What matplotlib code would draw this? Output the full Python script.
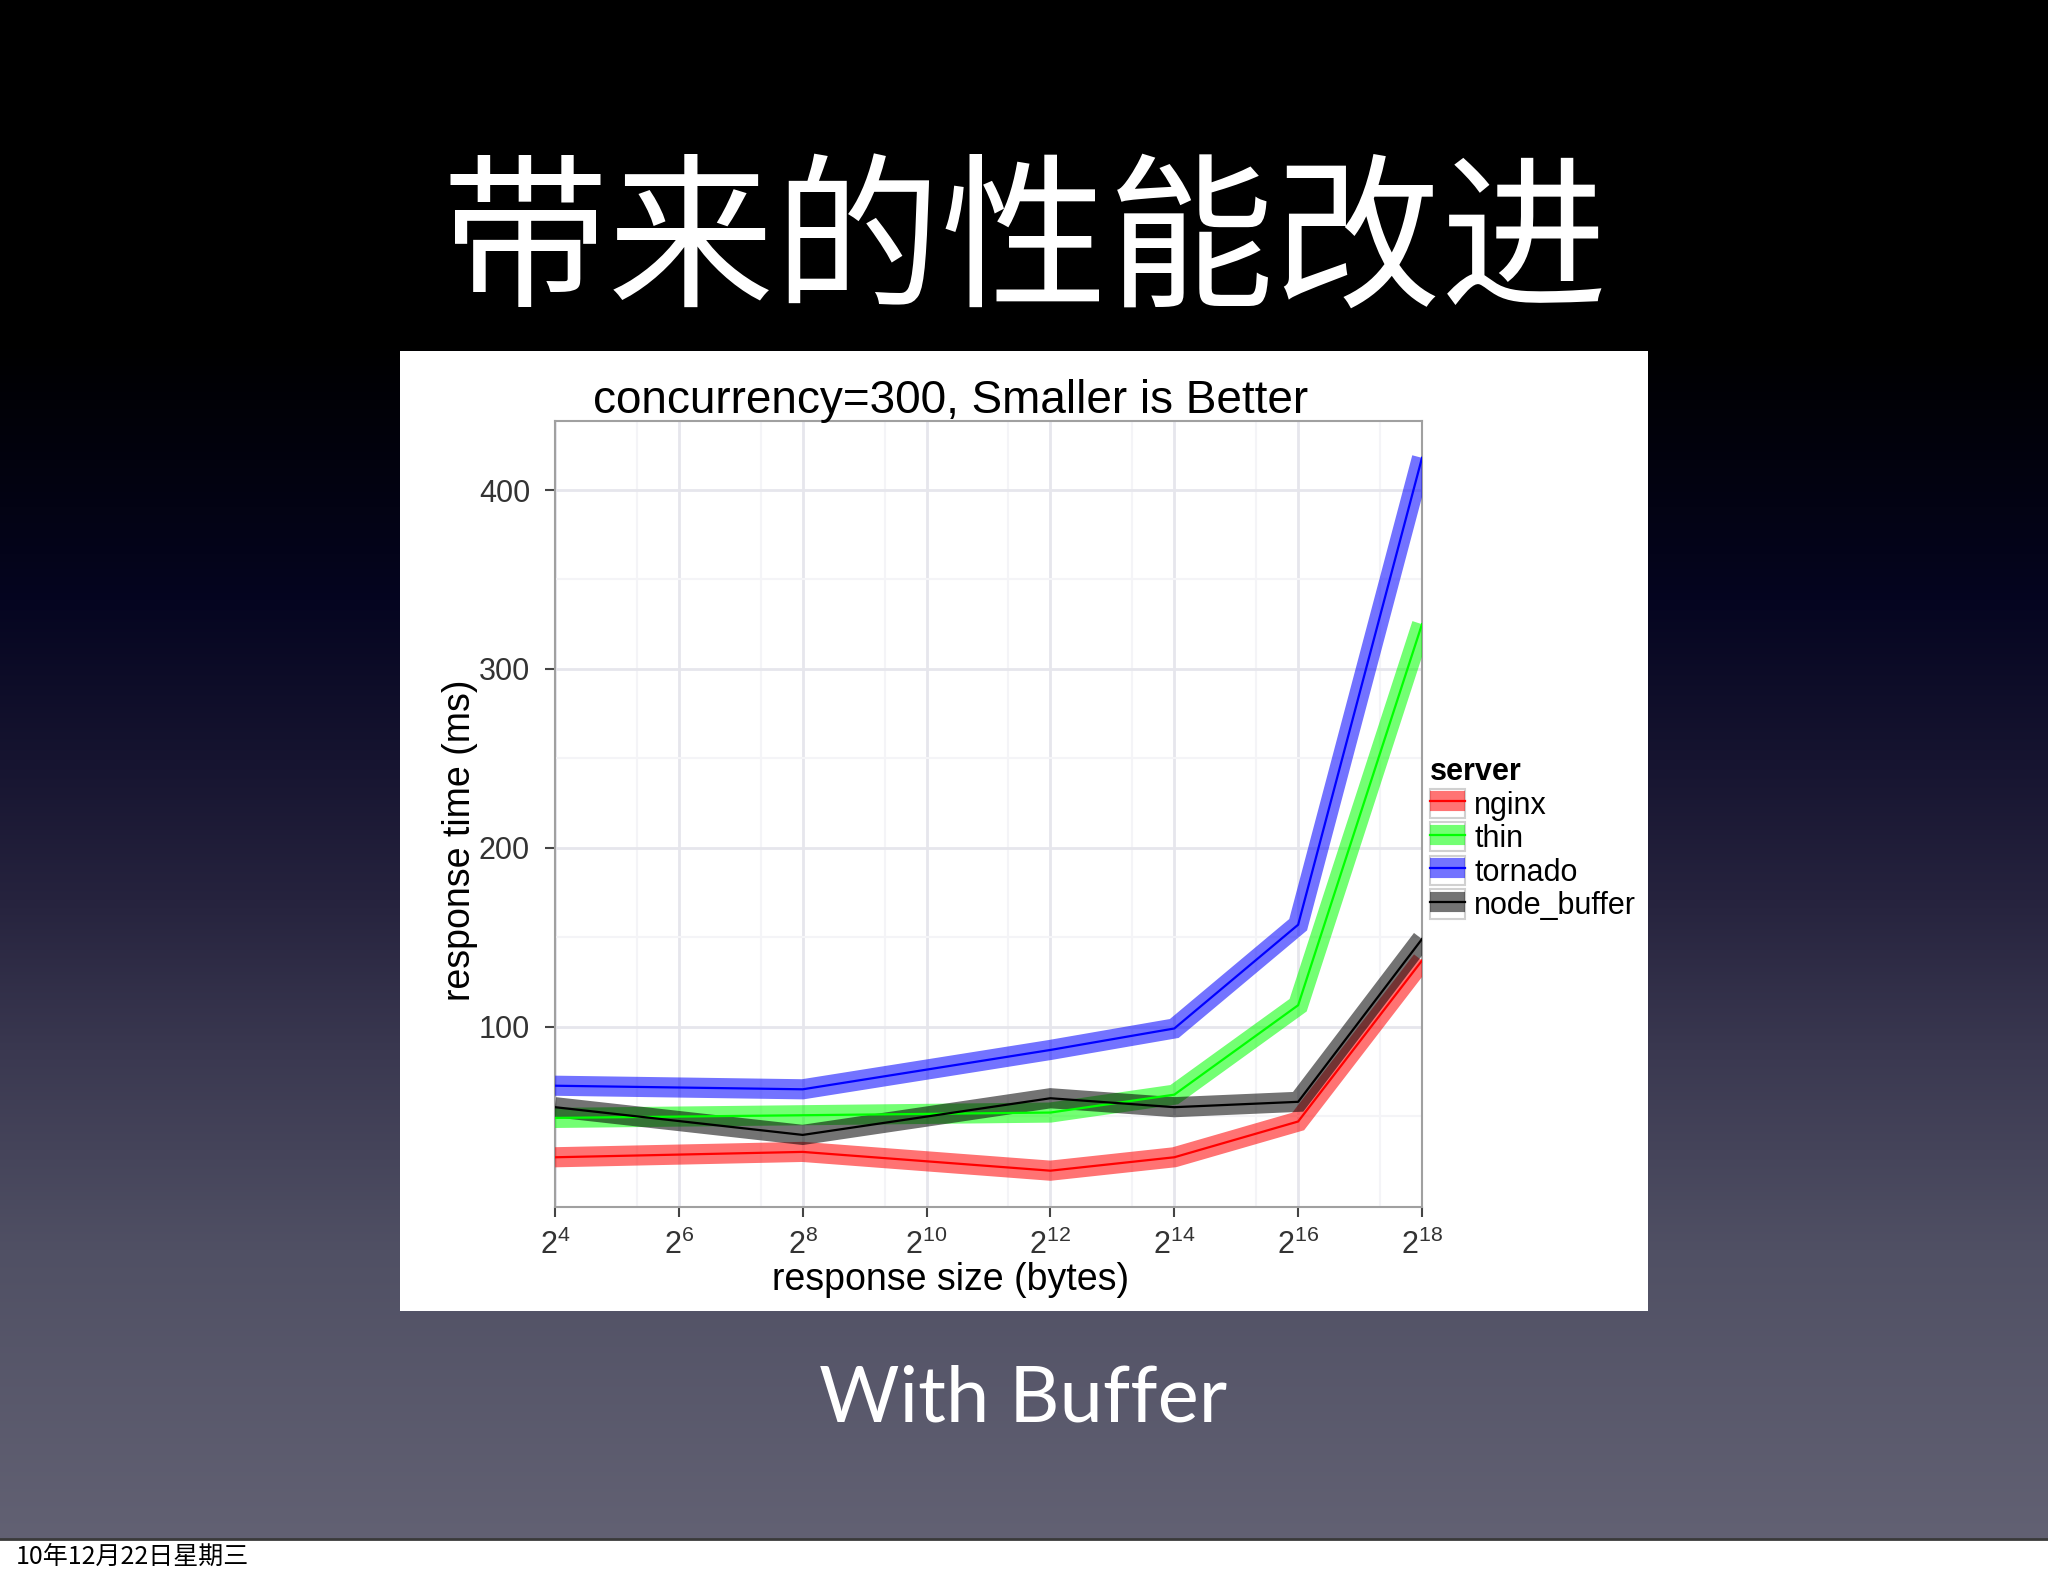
import numpy as np
import matplotlib
matplotlib.use('Agg')
import matplotlib.pyplot as plt
from matplotlib.patches import Rectangle
from matplotlib.lines import Line2D
from matplotlib.ticker import NullFormatter

# data
size_exp = [4, 8, 12, 14, 16, 18]
servers = ['nginx', 'thin', 'tornado', 'node_buffer']
nginx = [27, 30, 19.5, 27, 47, 137]
thin = [49, 50.5, 52, 62, 112, 325]
tornado = [67, 65, 87, 99, 157, 418]
node_buffer = [55, 39.5, 60, 55, 58, 149]
tick_exp = [4, 6, 8, 10, 12, 14, 16, 18]
y_ticks = [100, 200, 300, 400]

colors = ['#ff0000', '#00ff00', '#0000ff', '#000000']

plt.rcParams['font.family'] = ['Liberation Sans', 'Noto Sans CJK SC', 'DejaVu Sans']
plt.rcParams['mathtext.fontset'] = 'custom'
plt.rcParams['mathtext.rm'] = 'Liberation Sans'
plt.rcParams['mathtext.it'] = 'Liberation Sans:italic'
plt.rcParams['mathtext.bf'] = 'Liberation Sans:bold'

W, H = 2048, 1576
fig = plt.figure(figsize=(W / 100, H / 100), dpi=100)


def fx(px):
    return px / W


def fy(py):
    return 1 - py / H


# slide background gradient
bg = fig.add_axes([0, 0, 1, 1], zorder=-10)
stops_y = [0, 340, 460, 600, 760, 900, 1050, 1250, 1540]
stops_c = np.array([(0, 0, 0), (0, 0, 0), (2, 2, 14), (5, 5, 32), (22, 20, 48),
                    (38, 35, 62), (58, 56, 80), (80, 80, 100), (98, 97, 115)]) / 255
rows = np.arange(H)
grad = np.stack([np.interp(rows, stops_y, stops_c[:, i]) for i in range(3)], axis=1)
bg.imshow(grad[:, None, :], aspect='auto', extent=(0, 1, 0, 1))
bg.set_axis_off()

# white chart panel and footer strip
fig.patches.append(Rectangle((fx(400), fy(1311)), fx(1248), 960 / H,
                             transform=fig.transFigure, facecolor='white',
                             edgecolor='none', zorder=-5))
fig.patches.append(Rectangle((0, 0), 1, 36 / H, transform=fig.transFigure,
                             facecolor='white', edgecolor='none', zorder=-5))
fig.lines.append(Line2D([0, 1], [fy(1539), fy(1539)], transform=fig.transFigure,
                        color='#3a3a3a', lw=2, zorder=-4))

cjk = ['Noto Sans CJK SC', 'DejaVu Sans']
fig.text(fx(1025), fy(247), '带来的性能改进', family=cjk, fontsize=120,
         weight='light', color='white', ha='center', va='center')
fig.text(fx(1023), fy(1400), 'With Buffer', family=['Lato', 'DejaVu Sans'],
         fontsize=56, color='white', ha='center', va='center')
fig.text(fx(16), fy(1557), '10年12月22日星期三', family=cjk, fontsize=18,
         color='black', ha='left', va='center')

# chart
ax = fig.add_axes([fx(555), fy(1207), 867 / W, 786 / H])
ax.set_xscale('log', base=2)
x = [2 ** e for e in size_exp]
series = [nginx, thin, tornado, node_buffer]
for vals, c in zip(series, colors):
    ax.plot(x, vals, color=c, lw=14.5, alpha=0.55, solid_capstyle='butt',
            solid_joinstyle='miter', zorder=3)
for vals, c in zip(series, colors):
    ax.plot(x, vals, color=c, lw=1.6, zorder=4)

ax.set_xlim(2 ** 4, 2 ** 18)
ax.set_ylim(-0.8, 438.6)
ax.set_xticks([2 ** e for e in tick_exp])
ax.set_xticklabels([r'$2^{%d}$' % e for e in tick_exp])
ax.set_xticks([2.5 * 2 ** e for e in tick_exp[:-1]], minor=True)
ax.xaxis.set_minor_formatter(NullFormatter())
ax.set_yticks(y_ticks)
ax.set_yticks([50, 150, 250, 350], minor=True)
ax.yaxis.set_minor_formatter(NullFormatter())
ax.grid(True, which='major', color='#e6e6ec', lw=2)
ax.grid(True, which='minor', color='#f4f4f7', lw=1.5)
ax.set_axisbelow(True)
ax.tick_params(which='major', length=7, width=1.5, color='#444444',
               labelsize=22, labelcolor='#333333')
ax.tick_params(axis='y', pad=11)
ax.tick_params(axis='x', pad=9)
ax.tick_params(which='minor', length=0)
for sp in ax.spines.values():
    sp.set_color('#a0a0a0')
    sp.set_linewidth(1.5)

ax.set_xlabel('response size (bytes)', fontsize=27)
ax.xaxis.set_label_coords((951 - 555) / 867, (1207 - 1280) / 786)
ax.xaxis.label.set_va('center')
ax.set_ylabel('response time (ms)', fontsize=27)
ax.yaxis.set_label_coords((460 - 555) / 867, (1207 - 840) / 786)
ax.yaxis.label.set_va('center')

fig.text(fx(951), fy(413), 'concurrency=300, Smaller is Better', fontsize=33,
         ha='center', va='baseline')

handles = []
for c in colors:
    box = Rectangle((0, 0), 1, 1, facecolor='white', edgecolor='#d0d0d0', lw=1.5)
    thick = Line2D([], [], color=c, lw=14.5, alpha=0.55, solid_capstyle='butt')
    line = Line2D([], [], color=c, lw=1.6)
    handles.append((box, thick, line))
leg = ax.legend(handles, servers, title='server', loc='upper left',
                bbox_to_anchor=(fx(1430), fy(757)), bbox_transform=fig.transFigure,
                frameon=False, fontsize=22, borderpad=0, borderaxespad=0,
                handlelength=1.15, handleheight=1.1, handletextpad=0.3,
                labelspacing=0.05, alignment='left',
                title_fontproperties={'weight': 'bold', 'size': 22})

fig.savefig('out.png', dpi=100)
